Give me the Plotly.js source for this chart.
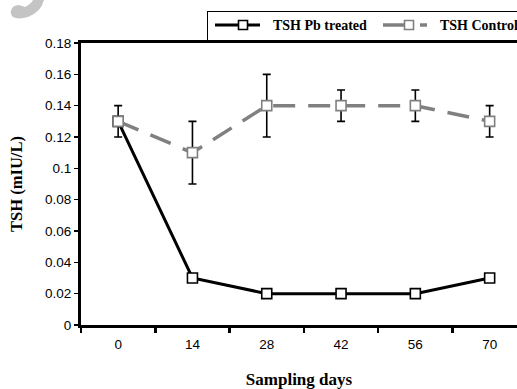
<!DOCTYPE html>
<html>
<head>
<meta charset="utf-8">
<script src="https://cdn.plot.ly/plotly-3.0.1.min.js"></script>
<style>html,body{margin:0;padding:0;background:#fff;}#chart{width:517px;height:389px;}</style>
</head>
<body>
<div id="chart"></div>
<script>
// ---- data ----
var days = ["0", "14", "28", "42", "56", "70"];
var tshPbTreated = [0.13, 0.03, 0.02, 0.02, 0.02, 0.03];
var tshControl = [0.13, 0.11, 0.14, 0.14, 0.14, 0.13];
var tshControlErr = [0.01, 0.02, 0.02, 0.01, 0.01, 0.01];
var yTickVals = [0, 0.02, 0.04, 0.06, 0.08, 0.1, 0.12, 0.14, 0.16, 0.18];
var yTickText = ["0", "0.02", "0.04", "0.06", "0.08", "0.1", "0.12", "0.14", "0.16", "0.18"];
var seriesNames = ["TSH Pb treated", "TSH Control"];

var W = 517, H = 389, ML = 81, MT = 43, MB = 64, MR = 0;
var pw = W - ML - MR, ph = H - MT - MB;
function PX(x) { return (x - ML) / pw; }
function PY(y) { return (H - MB - y) / ph; }
function P(x, y) { return PX(x).toFixed(4) + ',' + PY(y).toFixed(4); }

var SERIF = 'Liberation Serif, Times New Roman, serif';
var SANS = 'Liberation Sans, Arial, sans-serif';

var traces = [
  {
    x: days, y: tshPbTreated, type: 'scatter', mode: 'lines+markers',
    name: seriesNames[0], showlegend: false,
    line: {color: '#000000', width: 3},
    marker: {symbol: 'square', size: 10, color: '#ffffff', line: {color: '#000000', width: 1.6}}
  },
  {
    x: days, y: tshControl, type: 'scatter', mode: 'lines+markers',
    name: seriesNames[1], showlegend: false,
    line: {color: '#808080', width: 3.5, dash: '22px,13px'},
    marker: {symbol: 'square', size: 10, color: '#ffffff', line: {color: '#808080', width: 1.6}},
    error_y: {type: 'data', array: tshControlErr, visible: true, color: '#000000', thickness: 1.6, width: 4}
  }
];

function lineShape(x0, y0, x1, y1, color, width) {
  return {type: 'line', xref: 'paper', yref: 'paper', x0: PX(x0), y0: PY(y0), x1: PX(x1), y1: PY(y1),
          line: {color: color, width: width}, layer: 'above'};
}
function squareShape(cx, cy, s, color) {
  return {type: 'rect', xref: 'paper', yref: 'paper', x0: PX(cx - s / 2), x1: PX(cx + s / 2), y0: PY(cy + s / 2), y1: PY(cy - s / 2),
          fillcolor: '#ffffff', line: {color: color, width: 1.6}, layer: 'above'};
}

var shapes = [
  // watermark swoosh
  {type: 'path', xref: 'paper', yref: 'paper', layer: 'above',
   path: 'M' + P(11, 11) + ' Q' + P(12, 5) + ' ' + P(19, 5) + ' L' + P(25, 7) + ' Q' + P(31, 4) + ' ' + P(33, 0) +
         ' L' + P(44, 0) + ' Q' + P(41, 12) + ' ' + P(28, 17) + ' Q' + P(18, 20) + ' ' + P(13, 17) + ' Q' + P(10, 14) + ' ' + P(11, 11) + ' Z',
   fillcolor: '#c4c4c4', line: {width: 0}},
  // legend box (top and left borders; bottom is plot frame)
  lineShape(207, 11.5, 520, 11.5, '#000000', 1),
  lineShape(207.5, 11, 207.5, 43, '#000000', 1),
  // legend entry 1
  lineShape(215, 25, 260, 25, '#000000', 3),
  squareShape(243, 25, 9, '#000000'),
  // legend entry 2
  lineShape(383, 25, 404, 25, '#808080', 3.5),
  lineShape(420, 25, 427, 25, '#808080', 3.5),
  squareShape(409, 25, 9, '#808080')
];

var annotations = [
  {xref: 'paper', yref: 'paper', x: PX(271), y: PY(26), xanchor: 'left', yanchor: 'middle', showarrow: false,
   text: '<b>' + seriesNames[0] + '</b>', font: {family: SERIF, size: 14, color: '#000'}},
  {xref: 'paper', yref: 'paper', x: PX(438), y: PY(26), xanchor: 'left', yanchor: 'middle', showarrow: false,
   text: '<b>' + seriesNames[1] + '</b>', font: {family: SERIF, size: 14, color: '#000'}}
];

var layout = {
  width: W, height: H,
  margin: {l: ML, r: MR, t: MT, b: MB, pad: 0, autoexpand: false},
  paper_bgcolor: '#ffffff', plot_bgcolor: '#ffffff',
  showlegend: false,
  xaxis: {
    type: 'category', range: [-0.5, -0.5 + pw / 74.3],
    tickson: 'boundaries', ticks: 'outside', ticklen: 5, tickwidth: 2.5, tickcolor: '#000',
    ticklabelstandoff: 5,
    showline: true, linecolor: '#000', linewidth: 3, mirror: true,
    showgrid: false, zeroline: false,
    tickfont: {family: SANS, size: 13.5, color: '#000'},
    title: {text: 'Sampling days', font: {family: SERIF, size: 17, color: '#000', weight: 'bold'}, standoff: 25}
  },
  yaxis: {
    range: [0, 0.18], tickvals: yTickVals, ticktext: yTickText,
    ticks: 'outside', ticklen: 4, tickwidth: 1.5, tickcolor: '#000',
    showline: true, linecolor: '#000', linewidth: 3,
    showgrid: false, zeroline: false,
    tickfont: {family: SANS, size: 13.5, color: '#000'},
    title: {text: 'TSH (mIU/L)', font: {family: SERIF, size: 16.5, color: '#000', weight: 'bold'}, standoff: 19}
  },
  shapes: shapes,
  annotations: annotations
};

Plotly.newPlot('chart', traces, layout, {displayModeBar: false, staticPlot: true});
</script>
</body>
</html>
